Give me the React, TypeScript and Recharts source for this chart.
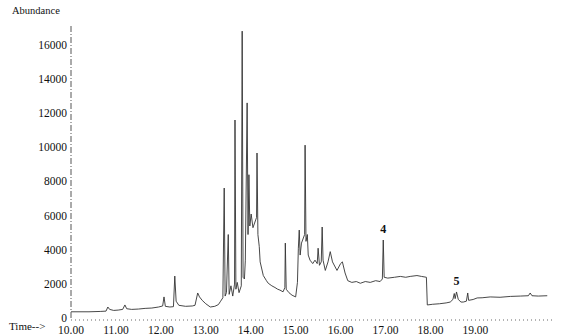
import { LineChart, Line, XAxis, YAxis, ReferenceDot } from 'recharts';

// retention time (min) and abundance
const times = [
    10.0, 10.4, 10.65, 10.78, 10.82, 10.86, 10.95, 11.05, 11.15, 11.2, 11.24, 11.35, 11.5, 11.65, 11.8, 11.95,
    12.04, 12.07, 12.1, 12.2, 12.28, 12.31, 12.34, 12.4, 12.55, 12.7, 12.76, 12.82, 12.86, 12.92, 13.0, 13.1,
    13.2, 13.28, 13.33, 13.38, 13.41, 13.43, 13.46, 13.5, 13.52, 13.56, 13.6, 13.64, 13.65, 13.67, 13.7, 13.74,
    13.79, 13.81, 13.83, 13.86, 13.88, 13.92, 13.94, 13.96, 13.98, 14.01, 14.05, 14.13, 14.14, 14.16, 14.19,
    14.21, 14.28, 14.35, 14.39, 14.47, 14.54, 14.6, 14.65, 14.72, 14.76, 14.77, 14.79, 14.85, 14.92, 15.0,
    15.04, 15.06, 15.08, 15.1, 15.13, 15.2, 15.21, 15.23, 15.26, 15.28, 15.32, 15.38, 15.43, 15.48, 15.5,
    15.53, 15.57, 15.59, 15.61, 15.66, 15.72, 15.77, 15.82, 15.92, 16.0, 16.04, 16.1, 16.16, 16.25, 16.35,
    16.44, 16.55, 16.66, 16.78, 16.88, 16.93, 16.95, 16.97, 17.05, 17.2, 17.33, 17.45, 17.55, 17.7, 17.8,
    17.91, 17.93, 18.05, 18.2, 18.35, 18.44, 18.5, 18.53, 18.55, 18.58, 18.62, 18.68, 18.73, 18.8, 18.83,
    18.85, 18.95, 19.04, 19.15, 19.33, 19.55, 19.78, 20.0, 20.18, 20.22, 20.26, 20.4, 20.6,
];

const abundance = [
    480, 480, 500, 520, 760, 620, 560, 580, 620, 880, 660, 620, 640, 680, 700, 760,
    820, 1350, 800, 760, 780, 2570, 1100, 860, 800, 820, 860, 1580, 1350, 1150, 950, 760,
    800, 900, 1100, 1300, 7720, 1400, 1600, 5000, 1500, 2000, 1400, 2100, 11700, 1800, 2200, 1600,
    2000, 16900, 2500, 2400, 3500, 12700, 5000, 8500, 5500, 6200, 5400, 6000, 9770, 5000, 4300,
    3400, 2600, 2300, 2150, 2000, 1900, 1800, 1750, 1650, 1900, 4500, 1800, 1600, 1450, 1350,
    2200, 4200, 5260, 3800, 4500, 5000, 10230, 4600, 5000, 3800, 3500, 3300, 3500, 3300, 4200,
    3200, 3400, 5440, 3500, 2900, 3400, 4000, 3400, 2900, 3300, 3400, 2750, 2300, 2200, 2250,
    2150, 2250, 2200, 2300, 2250, 2400, 4680, 2500, 2450, 2500, 2550, 2500, 2550, 2600, 2550,
    2500, 880, 920, 950, 1000, 1050, 1200, 1550, 1250, 1640, 1200, 1050, 1050, 1100, 1580,
    1150, 1200, 1290, 1300, 1350, 1330, 1380, 1400, 1420, 1580, 1420, 1400, 1420,
];

const xTicks = [10, 11, 12, 13, 14, 15, 16, 17, 18, 19];
const yTicks = [0, 2000, 4000, 6000, 8000, 10000, 12000, 14000, 16000];

const peakLabels = [
    { t: 16.95, a: 4680, text: '4' },
    { t: 18.58, a: 1640, text: '5' },
];

const data = times.map((t, i) => ({ t, a: abundance[i] }));

const FONT = "'Times New Roman', 'Liberation Serif', 'DejaVu Serif', serif";

export default function App() {
    return (
        <div style={{ position: 'absolute', left: 0, top: 0, width: 567, height: 336, background: '#fff', fontFamily: FONT }}>
            <LineChart width={567} height={336} data={data} margin={{ top: 26, right: 13, left: 0, bottom: 0 }}>
                <XAxis
                    dataKey="t"
                    type="number"
                    domain={[10, 20.75]}
                    ticks={xTicks}
                    tickFormatter={(v) => v.toFixed(2)}
                    height={16}
                    tickLine={false}
                    tickSize={0}
                    tickMargin={6}
                    axisLine={{ stroke: '#666', strokeDasharray: '1 3' }}
                    tick={{ fontSize: 11.5, fill: '#111', fontFamily: FONT }}
                    interval={0}
                />
                <YAxis
                    type="number"
                    domain={[0, 17200]}
                    ticks={yTicks}
                    width={71}
                    tickLine={false}
                    tickSize={0}
                    tickMargin={4}
                    axisLine={{ stroke: '#555', strokeDasharray: '6 2 1 2' }}
                    tick={{ fontSize: 11.5, fill: '#111', fontFamily: FONT, dy: -2 }}
                    interval={0}
                />
                <Line
                    type="linear"
                    dataKey="a"
                    stroke="#333"
                    strokeWidth={0.9}
                    dot={false}
                    isAnimationActive={false}
                />
                {peakLabels.map((p) => (
                    <ReferenceDot
                        key={p.text}
                        x={p.t}
                        y={p.a}
                        r={0}
                        stroke="none"
                        fill="none"
                        label={{ value: p.text, position: 'top', offset: 7, fontSize: 12, fontWeight: 'bold', fill: '#111', fontFamily: FONT }}
                    />
                ))}
            </LineChart>
            <div style={{ position: 'absolute', left: 12, top: 5, fontSize: 10.5, color: '#111' }}>Abundance</div>
            <div style={{ position: 'absolute', left: 9, top: 320, fontSize: 11, color: '#111' }}>Time--&gt;</div>
        </div>
    );
}
